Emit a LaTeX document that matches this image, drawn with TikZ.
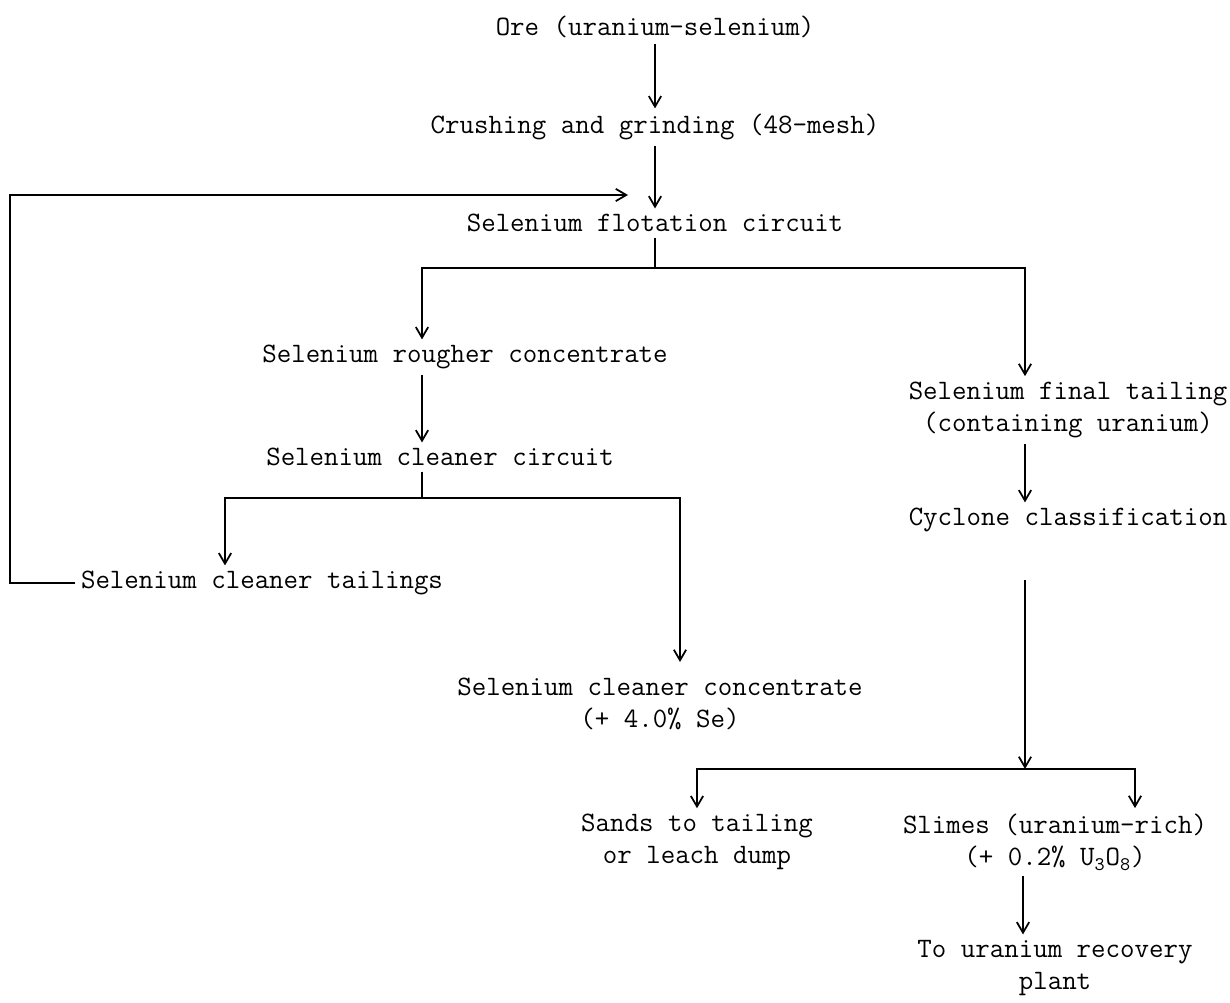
\documentclass[tikz,border=0pt]{standalone}
\usepackage{tikz}
\usetikzlibrary{arrows.meta,positioning}

\begin{document}
\begin{tikzpicture}[
        x=0.02cm, y=-0.02cm,
        >={Straight Barb[length=6pt,width=7pt,line width=1pt]},
        stage/.style={font=\ttfamily\fontsize{16}{18.5}\selectfont, align=center, inner sep=3pt}
    ]
        \useasboundingbox (0,0) rectangle (1230,1003);
        \node[stage] (ore) at (655,27) {Ore (uranium-selenium)};
        \node[stage] (crush) at (655,127) {Crushing and grinding (48-mesh)};
        \node[stage] (flot) at (655,223) {Selenium flotation circuit};
        \node[stage] (rough) at (465,357) {Selenium rougher concentrate};
        \node[stage] (clean) at (440,457) {Selenium cleaner circuit};
        \node[stage] (ctail) at (262,583) {Selenium cleaner tailings};
        \node[stage] (cconc) at (660,704) {Selenium cleaner concentrate\\(+ 4.0\% Se)};
        \node[stage] (ftail) at (1068,410) {Selenium final tailing\\(containing uranium)};
        \node[stage] (cyc) at (1068,520) {Cyclone classification};
        \node[stage] (sands) at (697,842) {Sands to tailing\\or leach dump};
        \node[stage] (slimes) at (1055,842) {Slimes (uranium-rich)\\(+ 0.2\% U$_{\mathtt{3}}$O$_{\mathtt{8}}$)};
        \node[stage] (plant) at (1055,968) {To uranium recovery\\plant};
        % branch points and free ends
        \coordinate (split1) at (655,268);
        \coordinate (rstem) at (422,268);
        \coordinate (tstem) at (1025,268);
        \coordinate (split2) at (422,498);
        \coordinate (tailturn) at (225,498);
        \coordinate (concend) at (680,662);
        \coordinate (cycout) at (1025,580);
        \coordinate (split3) at (1025,769);
        \coordinate (slimesturn) at (1135,769);
        \coordinate (loopturn) at (10,195);
        \coordinate (recycle) at (628,195);
        \draw[->,thick] (ore) -- (crush);
        \draw[->,thick] (crush) -- (flot);
        \draw[thick] (flot) -- (split1);
        \draw[<->,thick] (rough.north -| rstem) |- (split1) -| (ftail.north -| tstem);
        \draw[->,thick] (rough.south -| rstem) -- (clean.north -| rstem);
        \draw[thick] (clean.south -| split2) -- (split2);
        \draw[<->,thick] (ctail.north -| tailturn) |- (split2) -| (concend);
        \draw[->,thick] (ctail.west) -| (loopturn) -- (recycle);
        \draw[->,thick] (ftail.south -| tstem) -- (cyc.north -| tstem);
        \draw[->,thick] (cycout) -- (split3);
        \draw[<->,thick] (sands.north) |- (slimesturn) -- (slimes.north -| slimesturn);
        \draw[->,thick] (slimes.south -| 1023,0) -- (plant.north -| 1023,0);
    \end{tikzpicture}
\end{document}
